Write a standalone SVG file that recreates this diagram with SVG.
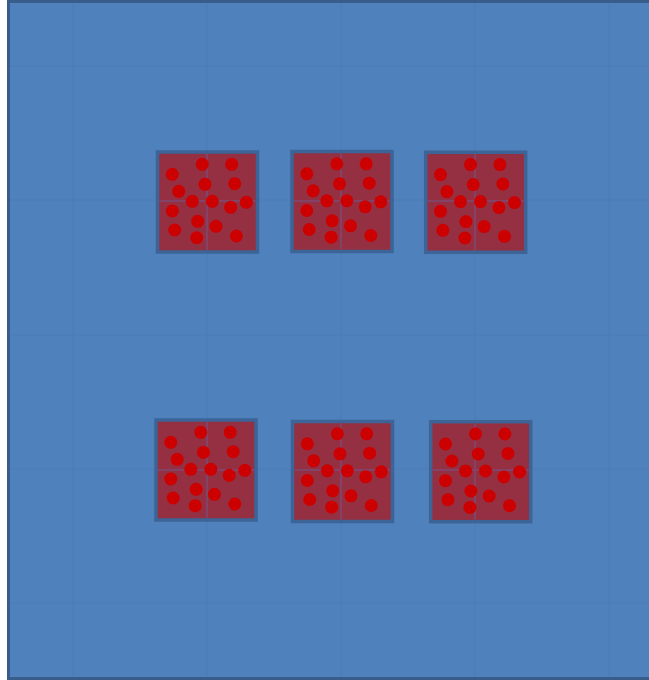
<svg xmlns="http://www.w3.org/2000/svg" xmlns:xlink="http://www.w3.org/1999/xlink" width="649" height="680" viewBox="0 0 649 680">
<style>
.bg{fill:#4f81bd;stroke:#385d8a;stroke-width:3}
.grid{stroke:#4876b0;stroke-width:1.5;fill:none;opacity:0.3}
.sq{fill:#943042;stroke:#3d6496;stroke-width:3.5}
.cross{stroke:#7a4f80;stroke-width:2;fill:none;opacity:0.6}
.dot{fill:#cc0000}
</style>
<defs>
<g id="dots">
<circle class="dot" cx="-5.2" cy="-37.7" r="6.5"/>
<circle class="dot" cx="24.2" cy="-37.7" r="6.5"/>
<circle class="dot" cx="-35.2" cy="-27.7" r="6.5"/>
<circle class="dot" cx="-2.5" cy="-17.7" r="6.5"/>
<circle class="dot" cx="27.2" cy="-18.3" r="6.5"/>
<circle class="dot" cx="-28.8" cy="-10.7" r="6.5"/>
<circle class="dot" cx="-15.2" cy="-0.7" r="6.5"/>
<circle class="dot" cx="4.8" cy="-0.7" r="6.5"/>
<circle class="dot" cx="38.8" cy="0.3" r="6.5"/>
<circle class="dot" cx="23.2" cy="5.3" r="6.5"/>
<circle class="dot" cx="-35.2" cy="9" r="6.5"/>
<circle class="dot" cx="-9.8" cy="19.3" r="6.5"/>
<circle class="dot" cx="8.5" cy="24.3" r="6.5"/>
<circle class="dot" cx="-32.8" cy="28" r="6.5"/>
<circle class="dot" cx="28.8" cy="34" r="6.5"/>
<circle class="dot" cx="-10.8" cy="35.7" r="6.5"/>
</g>
</defs>
<g id="background">
<rect class="bg" x="8.5" y="1.5" width="660" height="677"/>
<path class="grid" d="M73,3V677M207,3V677M341,3V677M475,3V677M609,3V677M10,66H649M10,200H649M10,335H649M10,469H649M10,603H649"/>
</g>
<g id="connectors"></g>
<g id="node1">
<rect class="sq" x="157.5" y="152" width="100" height="100"/>
<path class="cross" d="M207,154V250M159.5,201H255.5"/>
<use xlink:href="#dots" href="#dots" transform="translate(207.5,202)"/>
</g>
<g id="node2">
<rect class="sq" x="292" y="151.5" width="100" height="100"/>
<path class="cross" d="M341,153.5V249.5M294,201H390"/>
<use xlink:href="#dots" href="#dots" transform="translate(342,201.5)"/>
</g>
<g id="node3">
<rect class="sq" x="425.7" y="152.3" width="100" height="100"/>
<path class="cross" d="M475,154.3V250.3M427.7,201H523.7"/>
<use xlink:href="#dots" href="#dots" transform="translate(475.7,202.3)"/>
</g>
<g id="node4">
<rect class="sq" x="156" y="420" width="100" height="100"/>
<path class="cross" d="M207,422V518M158,470H254"/>
<use xlink:href="#dots" href="#dots" transform="translate(206,470)"/>
</g>
<g id="node5">
<rect class="sq" x="292.5" y="421.5" width="100" height="100"/>
<path class="cross" d="M341,423.5V519.5M294.5,470H390.5"/>
<use xlink:href="#dots" href="#dots" transform="translate(342.5,471.5)"/>
</g>
<g id="node6">
<rect class="sq" x="430.7" y="421.7" width="100" height="100"/>
<path class="cross" d="M475,423.7V519.7M432.7,470H528.7"/>
<use xlink:href="#dots" href="#dots" transform="translate(480.7,471.7)"/>
</g>
</svg>
